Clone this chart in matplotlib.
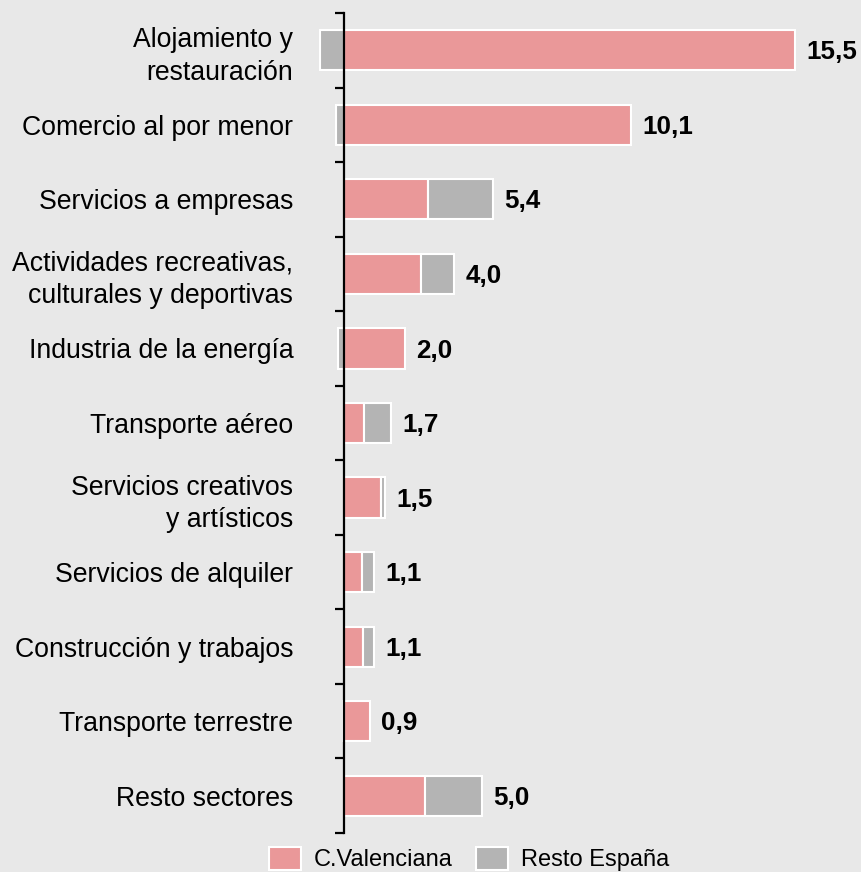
import matplotlib

matplotlib.use("Agg")

import matplotlib.pyplot as plt
import numpy as np

sectors = [
    "Alojamiento y\nrestauración",
    "Comercio al por menor",
    "Servicios a empresas",
    "Actividades recreativas,\nculturales y deportivas",
    "Industria de la energía",
    "Transporte aéreo",
    "Servicios creativos\ny artísticos",
    "Servicios de alquiler",
    "Construcción y trabajos",
    "Transporte terrestre",
    "Resto sectores",
]
valenciana = [16.35, 10.4, 3.05, 2.8, 2.2, 0.72, 1.35, 0.65, 0.7, 0.95, 2.95]
resto_espana = [-0.87, -0.3, 2.35, 1.2, -0.2, 0.98, 0.15, 0.45, 0.4, -0.05, 2.05]
totals = ["15,5", "10,1", "5,4", "4,0", "2,0", "1,7", "1,5", "1,1", "1,1", "0,9", "5,0"]

PINK = "#ea9899"
GREY = "#b4b4b4"
BG = "#e8e8e8"

plt.rcParams["font.family"] = ["Liberation Sans", "DejaVu Sans"]

fig = plt.figure(figsize=(8.61, 8.72), dpi=100, facecolor=BG)
ax = fig.add_axes([310 / 861, 1 - 833 / 872, 540 / 861, 820 / 872])
ax.set_facecolor(BG)

y = np.arange(len(sectors))
val = np.array(valenciana)
rest = np.array(resto_espana)

ax.barh(y, val, height=0.54, color=PINK, edgecolor="white", linewidth=1.5,
        label="C.Valenciana")
rest_left = np.where(rest > 0, val, 0)
ax.barh(y, rest, left=rest_left, height=0.54, color=GREY, edgecolor="white",
        linewidth=1.5, label="Resto España")

# total labels to the right of each bar
for i in range(len(sectors)):
    right_end = val[i] + max(rest[i], 0)
    ax.annotate(
        totals[i],
        xy=(right_end, y[i]),
        xytext=(8, -1.5),
        textcoords="offset points",
        va="center",
        ha="left",
        fontsize=18.7,
        fontweight="bold",
    )

ax.set_xlim(-1.23, 540 / 27.6 - 1.23)
ax.set_ylim(len(sectors) - 0.5, -0.5)

for side in ["top", "right", "bottom"]:
    ax.spines[side].set_visible(False)
ax.spines["left"].set_position(("data", 0))
ax.spines["left"].set_linewidth(1.6)
ax.set_xticks([])

ax.set_yticks(np.arange(len(sectors) + 1) - 0.5)
ax.set_yticklabels([])
ax.tick_params(axis="y", which="major", length=6.5, width=1.6, direction="out")
ax.set_yticks(y, minor=True)
ax.set_yticklabels(sectors, minor=True, fontsize=19.2)
ax.tick_params(axis="y", which="minor", length=0, pad=36.5)
for label in ax.get_yticklabels(minor=True):
    label.set_linespacing(1.32)

fig.legend(
    loc="upper center",
    bbox_to_anchor=(469 / 861, 1 - 847 / 872),
    ncol=2,
    frameon=False,
    fontsize=17,
    handlelength=1.36,
    handleheight=1.1,
    handletextpad=0.55,
    columnspacing=1.0,
    borderaxespad=0,
    borderpad=0,
)

fig.savefig("out.png", dpi=100, facecolor=BG)
plt.close(fig)
